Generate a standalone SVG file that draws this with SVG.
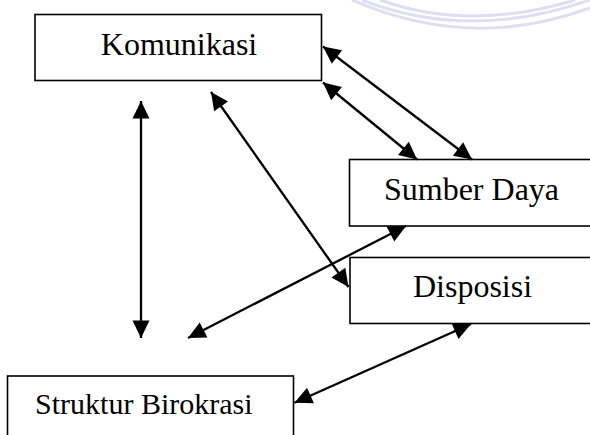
<svg xmlns="http://www.w3.org/2000/svg" width="590" height="435" viewBox="0 0 590 435">
<style>
.box{fill:#fff;stroke:#000;stroke-width:1.6}
.lbl{font-family:"Liberation Serif","Times New Roman",serif;font-size:32px;fill:#000;text-anchor:middle}
.con{stroke:#000;stroke-width:2.3;fill:none;marker-start:url(#ah);marker-end:url(#ah)}
.wm{fill:none;stroke:#dedef3;stroke-width:3}
</style>
<defs>
<marker id="ah" markerUnits="userSpaceOnUse" markerWidth="19" markerHeight="18" refX="17.5" refY="8.5" orient="auto-start-reverse" overflow="visible">
<path d="M0,0 L17.5,8.5 L0,17 Z" fill="#000"/>
</marker>
</defs>
<rect width="590" height="435" fill="#fff"/>
<g id="watermark">
<path class="wm" d="M352,0 Q470,52 590,8"/>
<path class="wm" d="M362,0 Q470,42 590,0" stroke="#e6e6f6"/>
<path class="wm" d="M380,0 Q470,32 575,0" stroke="#ededf9"/>
</g>
<g id="komunikasi">
<rect class="box" x="35" y="14.5" width="286.5" height="66"/>
<text class="lbl" x="179" y="54.5">Komunikasi</text>
</g>
<g id="sumber-daya">
<rect class="box" x="349.5" y="159.5" width="250" height="66.5"/>
<text class="lbl" x="471.5" y="200">Sumber Daya</text>
</g>
<g id="disposisi">
<rect class="box" x="350" y="257.5" width="250" height="66"/>
<text class="lbl" x="472.5" y="296.7">Disposisi</text>
</g>
<g id="struktur-birokrasi">
<rect class="box" x="7.5" y="376" width="286" height="80"/>
<text class="lbl" x="143.8" y="414" style="font-size:30px">Struktur Birokrasi</text>
</g>
<g id="connectors">
<line class="con" x1="141" y1="101" x2="141" y2="338"/>
<line class="con" x1="211" y1="92" x2="348.5" y2="287"/>
<line class="con" x1="323" y1="46.5" x2="472" y2="159.5"/>
<line class="con" x1="323" y1="82.5" x2="417" y2="159.5"/>
<line class="con" x1="406" y1="226" x2="188" y2="338"/>
<line class="con" x1="471" y1="324" x2="294.5" y2="402.7"/>
</g>
</svg>
